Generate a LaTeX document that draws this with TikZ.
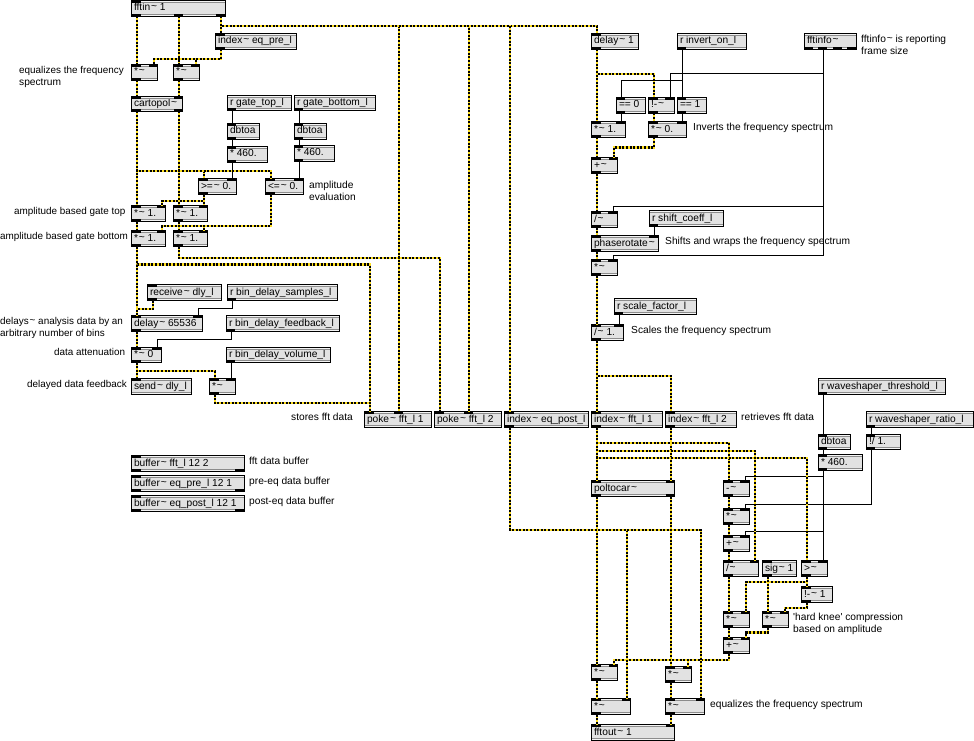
\documentclass[tikz,border=0pt]{standalone}
\usepackage{fontspec}
\setmainfont{Liberation Sans}
\definecolor{bodyg}{HTML}{E2E2E2}
\definecolor{bandg}{HTML}{8C8C8C}
\definecolor{lightg}{HTML}{F4F4F4}
\definecolor{sigy}{HTML}{FFE020}
\newcommand\tld{\kern.9pt\raisebox{1pt}{\textasciitilde}}
\newcommand\us{\_}
\tikzset{
 sig/.style={draw=sigy,line width=2.2pt,postaction={draw=black,dash pattern=on 2pt off 1.6pt}},
 ctl/.style={draw=black,line width=1pt},
 mxbox/.style={draw=black,fill=bodyg,line width=1pt,inner sep=0pt,outer sep=0pt,anchor=north west,text height=7pt,text depth=2pt,font=\fontsize{10.2}{12}\selectfont},
 lbl/.style={anchor=west,inner sep=0pt,yshift=-1pt,text height=7pt,text depth=2pt,font=\fontsize{10.2}{12}\selectfont},
 lbls/.style={lbl,font=\fontsize{9.9}{12}\selectfont},
}
% name,x1,y1,x2,y2,text,inlets,outlets
\newcommand\mx[8]{%
 \pgfmathsetmacro\mw{#4-#2-1}\pgfmathsetmacro\mh{#5-#3-1}%
 \node[mxbox,minimum width=\mw pt,minimum height=\mh pt] (#1) at (#2+.5,#3+.5) {\makebox[\mw pt][l]{\hspace{2.5pt}#6}};
 \fill[lightg] (#2+1,#3+1) rectangle (#4-1,#3+2);
 \fill[bandg] (#2+1,#3+2) rectangle (#4-1,#3+3);
 \fill[lightg] (#2+1,#5-2) rectangle (#4-1,#5-1);
 \fill[bandg] (#2+1,#5-3) rectangle (#4-1,#5-2);
 \foreach \o [count=\i] in {#7}{%
  \coordinate (#1-i\i) at (\o,0 |- #1.north);
  \pgfmathsetmacro\pa{max(\o-5,#2)}\pgfmathsetmacro\pb{min(\o+4,#4)}%
  \fill[black] (\pa,#3) rectangle (\pb,#3+3);}
 \foreach \o [count=\i] in {#8}{%
  \coordinate (#1-o\i) at (\o,0 |- #1.south);
  \pgfmathsetmacro\pa{max(\o-5,#2)}\pgfmathsetmacro\pb{min(\o+4,#4)}%
  \fill[black] (\pa,#5-3) rectangle (\pb,#5);}
}
\newcommand\vw[3]{\draw[#1] (#2) -- (#3);}
\newcommand\zw[4]{\draw[#1] (#2) -- (#2 |- 0,#3) -- (#4 |- 0,#3) -- (#4);}
\begin{document}
\begin{tikzpicture}[x=1pt,y=-1pt]
\useasboundingbox (0,0) rectangle (974,741);
\fill[white] (0,0) rectangle (974,741);
% left column
\mx{fi}{131}{0}{226}{17}{fftin\tld{} 1}{137}{137,179,221}
\mx{ipre}{215}{33}{297}{50}{index\tld{} eq\us pre\us l}{221}{221}
\mx{m1}{131}{64}{158}{81}{*\tld}{137,154}{137}
\mx{m2}{173}{64}{200}{81}{*\tld}{179,196}{179}
\mx{cp}{131}{96}{183}{112}{cartopol\tld}{137,179}{137,179}
\mx{rgt}{227}{95}{292}{111}{r gate\us top\us l}{}{232}
\mx{rgb}{294}{95}{376}{111}{r gate\us bottom\us l}{}{299}
\mx{db1}{227}{123}{260}{140}{dbtoa}{232}{232}
\mx{db2}{294}{123}{327}{140}{dbtoa}{299}{299}
\mx{mu1}{227}{146}{268}{163}{* 460.}{232}{232}
\mx{mu2}{294}{145}{335}{162}{* 460.}{299}{299}
\mx{ge}{198}{178}{237}{195}{>=\tld{} 0.}{204,232}{204}
\mx{le}{265}{178}{304}{195}{<=\tld{} 0.}{271,299}{271}
\mx{a1}{131}{205}{166}{222}{*\tld{} 1.}{137,162}{137}
\mx{a2}{173}{205}{208}{222}{*\tld{} 1.}{179,204}{179}
\mx{b1}{131}{230}{166}{247}{*\tld{} 1.}{137,162}{137}
\mx{b2}{173}{230}{208}{247}{*\tld{} 1.}{179,204}{179}
\mx{rcv}{147}{284}{222}{301}{receive\tld{} dly\us l}{153}{153}
\mx{rbs}{227}{284}{338}{301}{r bin\us delay\us samples\us l}{}{232}
\mx{dl}{131}{315}{203}{332}{delay\tld{} 65536}{137,198}{137}
\mx{rbf}{226}{315}{340}{332}{r bin\us delay\us feedback\us l}{}{231}
\mx{att}{131}{347}{162}{363}{*\tld{} 0}{137,157}{137}
\mx{rbv}{226}{347}{331}{363}{r bin\us delay\us volume\us l}{}{231}
\mx{snd}{131}{378}{192}{395}{send\tld{} dly\us l}{137}{}
\mx{vol}{209}{378}{236}{395}{*\tld}{215,231}{215}
\mx{p1}{364}{411}{432}{428}{poke\tld{} fft\us l 1}{370,399}{}
\mx{p2}{434}{411}{502}{428}{poke\tld{} fft\us l 2}{440,469}{}
\mx{ipost}{504}{411}{589}{428}{index\tld{} eq\us post\us l}{510}{510}
\mx{i1}{591}{411}{663}{428}{index\tld{} fft\us l 1}{597}{597}
\mx{i2}{665}{411}{737}{428}{index\tld{} fft\us l 2}{671}{671}
\mx{bfa}{131}{455}{245}{472}{buffer\tld{} fft\us l 12 2}{137}{137,240}
\mx{bfb}{131}{475}{245}{492}{buffer\tld{} eq\us pre\us l 12 1}{137}{137,240}
\mx{bfc}{131}{495}{245}{512}{buffer\tld{} eq\us post\us l 12 1}{137}{137,240}
% right column
\mx{d1}{591}{33}{639}{50}{delay\tld{} 1}{597}{597}
\mx{rinv}{677}{33}{747}{50}{r invert\us on\us l}{}{682}
\mx{finfo}{804}{33}{857}{50}{fftinfo\tld}{}{809,823,838,852}
\mx{eqz}{616}{97}{646}{114}{== 0}{621}{621}
\mx{nm}{648}{97}{675}{114}{!-\tld}{654,670}{654}
\mx{eqo}{677}{97}{707}{114}{== 1}{682}{682}
\mx{ms1}{591}{121}{626}{138}{*\tld{} 1.}{597,621}{597}
\mx{ms0}{648}{121}{687}{138}{*\tld{} 0.}{654,682}{654}
\mx{add1}{591}{157}{618}{174}{+\tld}{597,614}{597}
\mx{dv}{591}{211}{618}{228}{/\tld}{597,613}{597}
\mx{rsh}{649}{210}{724}{227}{r shift\us coeff\us l}{}{654}
\mx{ph}{591}{235}{659}{252}{phaserotate\tld}{597,654}{597}
\mx{mm}{591}{259}{618}{276}{*\tld}{597,613}{597}
\mx{rsf}{614}{298}{697}{315}{r scale\us factor\us l}{}{619}
\mx{sc}{591}{324}{624}{341}{/\tld{} 1.}{597,619}{597}
\mx{rwt}{818}{378}{946}{395}{r waveshaper\us threshold\us l}{}{823}
\mx{rwr}{866}{411}{974}{428}{r waveshaper\us ratio\us l}{}{871}
\mx{db3}{818}{434}{851}{450}{dbtoa}{823}{823}
\mx{nd}{866}{434}{901}{450}{!/ 1.}{871}{871}
\mx{mu3}{818}{454}{863}{471}{* 460.}{823}{823}
\mx{pc}{591}{480}{675}{497}{poltocar\tld}{597,671}{597,671}
\mx{sub}{723}{480}{750}{497}{-\tld}{729,745}{729}
\mx{mt}{723}{508}{750}{525}{*\tld}{729,745}{729}
\mx{ada}{723}{535}{750}{552}{+\tld}{729,745}{729}
\mx{dvb}{723}{560}{759}{577}{/\tld}{729,755}{729}
\mx{sg}{762}{560}{797}{577}{sig\tld{} 1}{768}{768}
\mx{gt}{801}{560}{828}{577}{>\tld}{807,823}{807}
\mx{nmo}{801}{586}{833}{603}{!-\tld{} 1}{807}{807}
\mx{mha}{723}{611}{750}{628}{*\tld}{729,746}{729}
\mx{mhb}{762}{611}{789}{628}{*\tld}{768,785}{768}
\mx{adb}{723}{637}{750}{654}{+\tld}{729,746}{729}
\mx{oa}{591}{664}{618}{681}{*\tld}{597,614}{597}
\mx{ob}{665}{666}{692}{683}{*\tld}{671,688}{671}
\mx{oc}{591}{698}{631}{715}{*\tld}{597,627}{597}
\mx{od}{665}{698}{705}{715}{*\tld}{671,701}{671}
\mx{fo}{591}{724}{675}{741}{fftout\tld{} 1}{597,671}{}
% control wires
\vw{ctl}{rgt-o1}{db1-i1}\vw{ctl}{db1-o1}{mu1-i1}\vw{ctl}{mu1-o1}{ge-i2}
\vw{ctl}{rgb-o1}{db2-i1}\vw{ctl}{db2-o1}{mu2-i1}\vw{ctl}{mu2-o1}{le-i2}
\zw{ctl}{rbs-o1}{308.5}{dl-i2}
\zw{ctl}{rbf-o1}{339}{att-i2}
\vw{ctl}{rbv-o1}{vol-i2}
\vw{ctl}{rinv-o1}{eqo-i1}
\zw{ctl}{rinv-o1}{80.5}{eqz-i1}
\vw{ctl}{eqz-o1}{ms1-i2}\vw{ctl}{eqo-o1}{ms0-i2}
\zw{ctl}{finfo-o2}{73.5}{nm-i2}
\zw{ctl}{finfo-o2}{206.5}{dv-i2}
\zw{ctl}{finfo-o2}{255.5}{mm-i2}
\vw{ctl}{rsh-o1}{ph-i2}
\vw{ctl}{rsf-o1}{sc-i2}
\vw{ctl}{rwt-o1}{db3-i1}\vw{ctl}{db3-o1}{mu3-i1}\vw{ctl}{mu3-o1}{gt-i2}
\vw{ctl}{rwr-o1}{nd-i1}
\zw{ctl}{mu3-o1}{476.5}{sub-i2}
\zw{ctl}{mu3-o1}{531}{ada-i2}
\zw{ctl}{nd-o1}{504.5}{mt-i2}
% signal wires
\vw{sig}{fi-o1}{m1-i1}\vw{sig}{fi-o2}{m2-i1}
\vw{sig}{fi-o3}{ipre-i1}
\zw{sig}{fi-o3}{26}{d1-i1}
\zw{sig}{fi-o3}{26}{p1-i2}
\zw{sig}{fi-o3}{26}{p2-i2}
\zw{sig}{fi-o3}{26}{ipost-i1}
\zw{sig}{ipre-o1}{59}{m1-i2}
\zw{sig}{ipre-o1}{59}{m2-i2}
\vw{sig}{m1-o1}{cp-i1}\vw{sig}{m2-o1}{cp-i2}
\vw{sig}{cp-o1}{a1-i1}\vw{sig}{cp-o2}{a2-i1}
\zw{sig}{cp-o1}{171}{ge-i1}
\zw{sig}{cp-o1}{171}{le-i1}
\zw{sig}{ge-o1}{201}{a1-i2}
\vw{sig}{ge-o1}{a2-i2}
\zw{sig}{le-o1}{226}{b1-i2}
\zw{sig}{le-o1}{226}{b2-i2}
\vw{sig}{a1-o1}{b1-i1}\vw{sig}{a2-o1}{b2-i1}
\vw{sig}{b1-o1}{dl-i1}
\zw{sig}{b1-o1}{264.5}{p1-i1}
\zw{sig}{b2-o1}{258}{p2-i1}
\zw{sig}{rcv-o1}{309}{dl-i1}
\vw{sig}{dl-o1}{att-i1}\vw{sig}{att-o1}{snd-i1}
\zw{sig}{att-o1}{371}{vol-i1}
\zw{sig}{vol-o1}{403}{p1-i1}
\vw{sig}{d1-o1}{ms1-i1}
\zw{sig}{d1-o1}{74}{nm-i1}
\vw{sig}{nm-o1}{ms0-i1}
\vw{sig}{ms1-o1}{add1-i1}
\zw{sig}{ms0-o1}{147.5}{add1-i2}
\vw{sig}{add1-o1}{dv-i1}\vw{sig}{dv-o1}{ph-i1}\vw{sig}{ph-o1}{mm-i1}
\vw{sig}{mm-o1}{sc-i1}\vw{sig}{sc-o1}{i1-i1}
\zw{sig}{sc-o1}{376}{i2-i1}
\vw{sig}{i1-o1}{pc-i1}\vw{sig}{i2-o1}{pc-i2}
\zw{sig}{i1-o1}{443}{sub-i1}
\zw{sig}{i1-o1}{451}{dvb-i2}
\zw{sig}{i1-o1}{458}{gt-i1}
\vw{sig}{pc-o1}{oa-i1}\vw{sig}{pc-o2}{ob-i1}
\vw{sig}{sub-o1}{mt-i1}\vw{sig}{mt-o1}{ada-i1}\vw{sig}{ada-o1}{dvb-i1}
\vw{sig}{dvb-o1}{mha-i1}
\zw{sig}{gt-o1}{582}{mha-i2}
\vw{sig}{gt-o1}{nmo-i1}
\vw{sig}{sg-o1}{mhb-i1}
\zw{sig}{nmo-o1}{608}{mhb-i2}
\vw{sig}{mha-o1}{adb-i1}
\zw{sig}{mhb-o1}{632.5}{adb-i2}
\zw{sig}{adb-o1}{660}{oa-i2}
\zw{sig}{adb-o1}{660}{ob-i2}
\vw{sig}{oa-o1}{oc-i1}\vw{sig}{ob-o1}{od-i1}
\vw{sig}{oc-o1}{fo-i1}\vw{sig}{od-o1}{fo-i2}
\zw{sig}{ipost-o1}{530}{oc-i2}
\zw{sig}{ipost-o1}{530}{od-i2}
% comments
\node[lbls] (ta) at (19,70) {equalizes the frequency};
\node[lbl] (tb) at (19,82) {spectrum};
\node[lbls] (tc) at (14,211) {amplitude based gate top};
\node[lbls] (td) at (0,236) {amplitude based gate bottom};
\node[lbl] (te) at (309,185) {amplitude};
\node[lbl] (tf) at (309,197) {evaluation};
\node[lbls] (tg) at (0,321) {delays\tld{} analysis data by an};
\node[lbls] (th) at (0,333) {arbitrary number of bins};
\node[lbls] (ti) at (54,352) {data attenuation};
\node[lbls] (tj) at (27,384) {delayed data feedback};
\node[lbl] (tk) at (291,417) {stores fft data};
\node[lbl] (tl) at (249,461) {fft data buffer};
\node[lbl] (tm) at (249,481) {pre-eq data buffer};
\node[lbl] (tn) at (249,501) {post-eq data buffer};
\node[lbl] (to) at (861,39) {fftinfo\tld{} is reporting};
\node[lbl] (tp) at (861,51) {frame size};
\node[lbl] (tq) at (693,127) {Inverts the frequency spectrum};
\node[lbl] (tr) at (665,241) {Shifts and wraps the frequency spectrum};
\node[lbl] (ts) at (631,330) {Scales the frequency spectrum};
\node[lbl] (tt) at (741,417) {retrieves fft data};
\node[lbl] (tu) at (793,617) {\textquotesingle hard knee\textquotesingle{} compression};
\node[lbl] (tv) at (793,629) {based on amplitude};
\node[lbl] (tw) at (710,704) {equalizes the frequency spectrum};
\end{tikzpicture}
\end{document}
